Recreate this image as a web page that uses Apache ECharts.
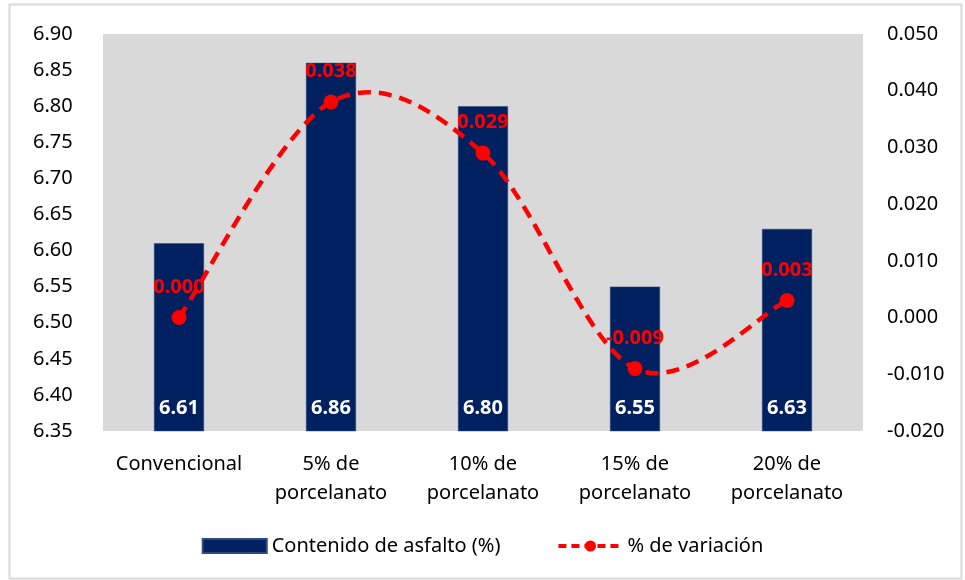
<!DOCTYPE html>
<html>
<head>
<meta charset="utf-8">
<script src="https://cdn.jsdelivr.net/npm/echarts@6/dist/echarts.min.js"></script>
<style>
  html,body{margin:0;padding:0;background:#fff;}
  #chart{width:965px;height:580px;}
</style>
</head>
<body>
<div id="chart"></div>
<script>
// categorias y valores
var categorias = ['Convencional', '5% de\nporcelanato', '10% de\nporcelanato', '15% de\nporcelanato', '20% de\nporcelanato'];
var contenido = [6.61, 6.86, 6.80, 6.55, 6.63];
var variacion = [0.000, 0.038, 0.029, -0.009, 0.003];

var chart = echarts.init(document.getElementById('chart'));
var fuente = '"Noto Sans", sans-serif';

// curva suavizada tipo Excel (Catmull-Rom) sobre los puntos de variacion
function curvaSuave(params, api) {
  if (params.dataIndex !== 0) return;
  var p = [];
  for (var i = 0; i < variacion.length; i++) p.push(api.coord([i, variacion[i]]));
  var n = p.length;
  var d = 'M' + p[0][0] + ' ' + p[0][1];
  for (var k = 0; k < n - 1; k++) {
    var a = p[k - 1] || p[k], b = p[k], c = p[k + 1], e = p[k + 2] || p[k + 1];
    var c1x = b[0] + (c[0] - a[0]) / 6, c1y = b[1] + (c[1] - a[1]) / 6;
    var c2x = c[0] - (e[0] - b[0]) / 6, c2y = c[1] - (e[1] - b[1]) / 6;
    d += ' C' + c1x + ' ' + c1y + ' ' + c2x + ' ' + c2y + ' ' + c[0] + ' ' + c[1];
  }
  return {
    type: 'path',
    shape: { pathData: d },
    style: { fill: null, stroke: '#ff0000', lineWidth: 4.5, lineDash: [13, 8] },
    silent: true
  };
}

var option = {
  backgroundColor: '#fff',
  textStyle: { fontFamily: fuente },
  graphic: [{
    type: 'rect',
    shape: { x: 9.5, y: 4.5, width: 952, height: 574 },
    style: { fill: 'none', stroke: '#d9d9d9', lineWidth: 2 },
    silent: true
  }],
  grid: {
    left: 103, right: 102, top: 34, bottom: 149,
    show: true, backgroundColor: '#d9d9d9', borderWidth: 0
  },
  legend: {
    bottom: 19, left: 'center',
    itemGap: 56,
    textStyle: { fontSize: 20, color: '#000', fontFamily: fuente },
    itemWidth: 64, itemHeight: 14,
    data: [
      { name: 'Contenido de asfalto (%)', icon: 'rect' },
      { name: '% de variación', lineStyle: { color: '#ff0000', width: 4, type: [8, 5], opacity: 1 } }
    ]
  },
  xAxis: {
    type: 'category',
    data: categorias,
    axisLine: { show: false },
    axisTick: { show: false },
    axisLabel: { color: '#000', fontSize: 20, lineHeight: 29, margin: 19, interval: 0, fontFamily: fuente }
  },
  yAxis: [{
    type: 'value',
    min: 6.35, max: 6.90, interval: 0.05,
    splitLine: { show: false },
    axisLine: { show: false },
    axisTick: { show: false },
    axisLabel: {
      color: '#000', fontSize: 20, margin: 70, align: 'left', fontFamily: fuente,
      formatter: function (v) { return v.toFixed(2); }
    }
  }, {
    type: 'value',
    min: -0.02, max: 0.05, interval: 0.01,
    splitLine: { show: false },
    axisLine: { show: false },
    axisTick: { show: false },
    axisLabel: {
      color: '#000', fontSize: 20, margin: 24, fontFamily: fuente,
      formatter: function (v) { return v.toFixed(3); }
    }
  }],
  series: [{
    name: 'Contenido de asfalto (%)',
    type: 'bar',
    data: contenido,
    barWidth: 50,
    itemStyle: { color: '#002060', borderColor: '#2f4a80', borderWidth: 0.5 },
    label: {
      show: true, position: 'insideBottom', distance: 13,
      color: '#fff', fontWeight: 'bold', fontSize: 20, fontFamily: fuente,
      formatter: function (p) { return p.value.toFixed(2); }
    }
  }, {
    name: 'curva',
    type: 'custom',
    yAxisIndex: 1,
    data: variacion.map(function (v, i) { return [i, v]; }),
    encode: { x: 0, y: 1 },
    renderItem: curvaSuave,
    z: 4
  }, {
    name: '% de variación',
    type: 'line',
    yAxisIndex: 1,
    data: variacion,
    symbol: 'circle',
    symbolSize: 15,
    itemStyle: { color: '#ff0000' },
    lineStyle: { opacity: 0 },
    label: {
      show: true, position: 'top', distance: 13,
      color: '#ff0000', fontWeight: 'bold', fontSize: 20, fontFamily: fuente,
      formatter: function (p) { return p.value.toFixed(3); }
    },
    z: 5
  }]
};
chart.setOption(option);
</script>
</body>
</html>
